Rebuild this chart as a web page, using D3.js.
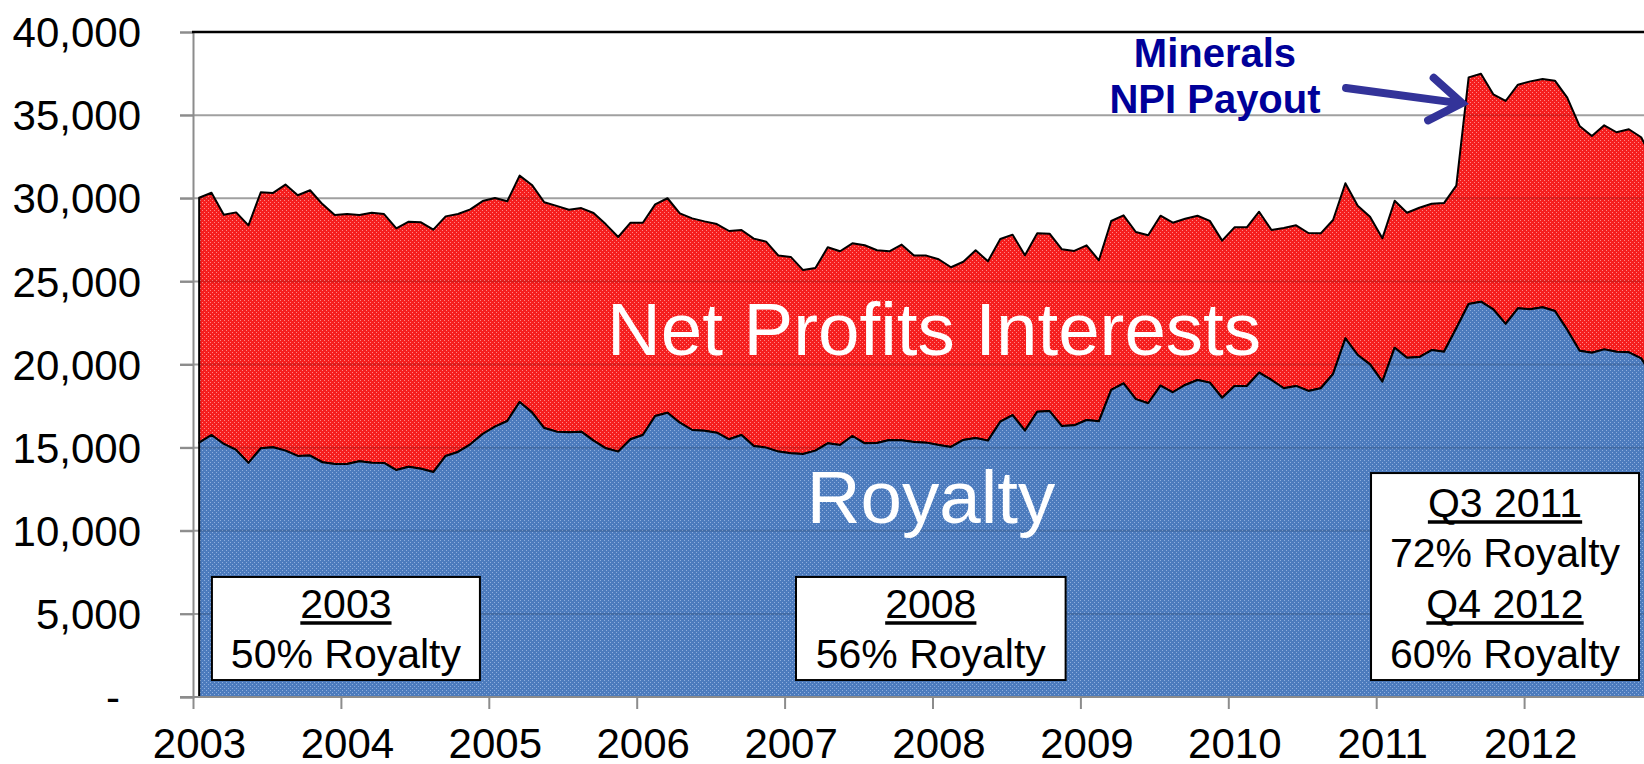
<!DOCTYPE html>
<html>
<head>
<meta charset="utf-8">
<script src="https://cdn.jsdelivr.net/npm/d3@7"></script>
<style>
  body { margin: 0; background: #fff; }
  svg { display: block; font-family: "Liberation Sans", Arial, sans-serif; }
</style>
</head>
<body>
<div id="chart"></div>
<script>
(function(d3) {
  'use strict';

  // monthly values, Jan 2003 onward
  var yearTicks = [2003, 2004, 2005, 2006, 2007, 2008, 2009, 2010, 2011, 2012];
  var yTicks = [0, 5000, 10000, 15000, 20000, 25000, 30000, 35000, 40000];

  var royalty = [
    15300, 15760, 15220, 14860, 14080, 14960, 15020, 14820, 14500, 14520, 14120, 14020,
    14020, 14180, 14090, 14080, 13650, 13850, 13730, 13530, 14500, 14740, 15200, 15820,
    16260, 16600, 17740, 17120, 16180, 15960, 15920, 15960, 15420, 14960, 14760, 15500,
    15760, 16900, 17100, 16500, 16060, 16020, 15900, 15500, 15760, 15100, 15000, 14760,
    14660, 14620, 14820, 15260, 15160, 15700, 15260, 15280, 15460, 15440, 15340, 15300,
    15160, 15040, 15460, 15580, 15420, 16560, 16960, 16020, 17160, 17200, 16300, 16340,
    16660, 16580, 18470, 18870, 17920, 17670, 18730, 18330, 18770, 19070, 18910, 18000,
    18710, 18710, 19510, 19070, 18570, 18710, 18410, 18570, 19430, 21570, 20570, 20010,
    18970, 21010, 20410, 20450, 20870, 20770, 22180, 23640, 23780, 23320, 22440, 23380,
    23320, 23440, 23220, 22080, 20830, 20710, 20910, 20770, 20730, 20370, 19200
  ];

  var total = [
    30030, 30330, 29010, 29150, 28370, 30360, 30320, 30820, 30180, 30480, 29650, 28990,
    29050, 28990, 29130, 29050, 28190, 28590, 28550, 28110, 28910, 29050, 29330, 29830,
    30020, 29820, 31360, 30800, 29760, 29540, 29310, 29410, 29110, 28430, 27670, 28530,
    28530, 29630, 30000, 29090, 28790, 28610, 28450, 28030, 28090, 27570, 27390, 26550,
    26470, 25680, 25800, 27050, 26810, 27290, 27170, 26870, 26810, 27210, 26550, 26550,
    26330, 25850, 26180, 26870, 26210, 27550, 27810, 26570, 27890, 27870, 26930, 26830,
    27170, 26270, 28630, 28970, 27970, 27770, 28950, 28530, 28770, 28950, 28640, 27450,
    28250, 28250, 29190, 28090, 28210, 28370, 27910, 27890, 28690, 30900, 29550, 28890,
    27590, 29850, 29130, 29430, 29670, 29710, 30760, 37270, 37490, 36250, 35850, 36830,
    37030, 37170, 37070, 36050, 34350, 33740, 34390, 33970, 34150, 33670, 32200
  ];

  var seriesLabels = ['Net Profits Interests', 'Royalty'];
  var calloutLines = ['Minerals', 'NPI Payout'];
  var boxTexts = [
    ['2003', '50% Royalty'],
    ['2008', '56% Royalty'],
    ['Q3 2011', '72% Royalty', 'Q4 2012', '60% Royalty']
  ];

  var width = 1644;
  var height = 764;

  var x = d3.scaleLinear().domain([2003, 2013]).range([193, 1672]);
  var y = d3.scaleLinear().domain([0, 40000]).range([697, 32]);

  function monthX(i) { return x(2003 + (i + 0.5) / 12); }

  var rows = royalty.map(function(r, i) {
    return { i: i, royalty: r, total: total[i] };
  });

  var svg = d3.select('#chart')
    .append('svg')
    .attr('width', width)
    .attr('height', height);

  var defs = svg.append('defs');

  function makePattern(id, base, dot) {
    var p = defs.append('pattern')
      .attr('id', id)
      .attr('width', 4)
      .attr('height', 4)
      .attr('patternUnits', 'userSpaceOnUse');
    p.append('rect').attr('width', 4).attr('height', 4).attr('fill', base);
    p.append('rect').attr('x', 0).attr('y', 0).attr('width', 1).attr('height', 1).attr('fill', dot);
    p.append('rect').attr('x', 2).attr('y', 2).attr('width', 1).attr('height', 1).attr('fill', dot);
  }
  makePattern('redPat', '#f51e1e', '#ff8585');
  makePattern('bluePat', '#4c7bbd', '#8eaede');

  var totalArea = d3.area()
    .x(function(d) { return monthX(d.i); })
    .y0(y(0))
    .y1(function(d) { return y(d.total); });

  var npiArea = d3.area()
    .x(function(d) { return monthX(d.i); })
    .y0(function(d) { return y(d.royalty); })
    .y1(function(d) { return y(d.total); });

  var royaltyArea = d3.area()
    .x(function(d) { return monthX(d.i); })
    .y0(y(0))
    .y1(function(d) { return y(d.royalty); });

  defs.append('clipPath').attr('id', 'fillClip')
    .append('path').attr('d', totalArea(rows));

  // gridlines (under the fills)
  var grid = svg.append('g').attr('class', 'grid');
  grid.selectAll('line')
    .data(yTicks.filter(function(d) { return d > 0 && d < 40000; }))
    .enter().append('line')
    .attr('x1', 180).attr('x2', width)
    .attr('y1', function(d) { return y(d); })
    .attr('y2', function(d) { return y(d); })
    .attr('stroke', '#a0a0a0')
    .attr('stroke-width', 2);

  // stacked areas
  svg.append('path')
    .attr('d', npiArea(rows))
    .attr('fill', 'url(#redPat)')
    .attr('stroke', '#000')
    .attr('stroke-width', 2)
    .attr('stroke-linejoin', 'round');

  svg.append('path')
    .attr('d', royaltyArea(rows))
    .attr('fill', 'url(#bluePat)')
    .attr('stroke', '#000')
    .attr('stroke-width', 2)
    .attr('stroke-linejoin', 'round');

  // gridlines showing faintly through the fills
  svg.append('g')
    .attr('clip-path', 'url(#fillClip)')
    .selectAll('line')
    .data(yTicks.filter(function(d) { return d > 0 && d < 40000; }))
    .enter().append('line')
    .attr('x1', 180).attr('x2', width)
    .attr('y1', function(d) { return y(d); })
    .attr('y2', function(d) { return y(d); })
    .attr('stroke', 'rgba(0,0,0,0.13)')
    .attr('stroke-width', 2);

  // axes
  var yAxis = d3.axisLeft(y)
    .tickValues(yTicks)
    .tickSize(13)
    .tickPadding(39)
    .tickFormat(function(d) { return d === 0 ? '-' : d3.format(',')(d); });

  var yAxisG = svg.append('g')
    .attr('transform', 'translate(193,0)')
    .call(yAxis);
  yAxisG.select('.domain').attr('stroke', '#8c8c8c').attr('stroke-width', 2);
  yAxisG.selectAll('.tick line').attr('stroke', '#8c8c8c').attr('stroke-width', 2);
  yAxisG.selectAll('.tick text')
    .attr('font-size', 42)
    .attr('font-family', '"Liberation Sans", Arial, sans-serif')
    .attr('fill', '#000')
    .attr('dy', '0.35em');
  yAxisG.selectAll('.tick text')
    .filter(function(d) { return d === 0; })
    .attr('dx', -21);

  var xAxis = d3.axisBottom(x)
    .tickValues(yearTicks)
    .tickSize(12)
    .tickPadding(22)
    .tickFormat(d3.format('d'));

  var xAxisG = svg.append('g')
    .attr('transform', 'translate(0,' + y(0) + ')')
    .call(xAxis);
  xAxisG.select('.domain').remove();
  xAxisG.append('line')
    .attr('x1', 180).attr('x2', width)
    .attr('y1', 0).attr('y2', 0)
    .attr('stroke', '#8c8c8c').attr('stroke-width', 2);
  xAxisG.selectAll('.tick line').attr('stroke', '#8c8c8c').attr('stroke-width', 2);
  xAxisG.selectAll('.tick text')
    .attr('font-size', 42)
    .attr('font-family', '"Liberation Sans", Arial, sans-serif')
    .attr('fill', '#000')
    .attr('dx', 6)
    .attr('dy', 0)
    .attr('y', 61);

  // top border of plot area
  svg.append('line')
    .attr('x1', 192).attr('x2', width)
    .attr('y1', y(40000)).attr('y2', y(40000))
    .attr('stroke', '#000').attr('stroke-width', 2.5);

  // series labels inside the areas
  svg.append('text')
    .attr('x', x(2008.01)).attr('y', y(20570))
    .attr('text-anchor', 'middle')
    .attr('font-size', 74.5)
    .attr('fill', '#fff')
    .text(seriesLabels[0]);

  svg.append('text')
    .attr('x', x(2007.99)).attr('y', y(10470))
    .attr('text-anchor', 'middle')
    .attr('font-size', 74.5)
    .attr('fill', '#fff')
    .text(seriesLabels[1]);

  // boxed notes
  var boxes = [
    { x0: 2003.128, x1: 2004.94, top: 7220, bottom: 1020, lines: boxTexts[0] },
    { x0: 2007.077, x1: 2008.90, top: 7220, bottom: 1020, lines: boxTexts[1] },
    { x0: 2010.965, x1: 2012.777, top: 13470, bottom: 1020, lines: boxTexts[2] }
  ];

  boxes.forEach(function(b) {
    var g = svg.append('g');
    var left = x(b.x0), right = x(b.x1);
    var top = y(b.top), bottom = y(b.bottom);
    g.append('rect')
      .attr('x', left).attr('y', top)
      .attr('width', right - left).attr('height', bottom - top)
      .attr('fill', '#fff')
      .attr('stroke', '#000')
      .attr('stroke-width', 2);
    var cx = (left + right) / 2;
    var n = b.lines.length;
    b.lines.forEach(function(t, k) {
      var baseline = bottom - 12 - (n - 1 - k) * 50.5;
      var txt = g.append('text')
        .attr('x', cx).attr('y', baseline)
        .attr('text-anchor', 'middle')
        .attr('font-size', 41)
        .attr('fill', '#000')
        .text(t);
      if (k % 2 === 0) {
        var w = txt.node().getComputedTextLength();
        g.append('line')
          .attr('x1', cx - w / 2).attr('x2', cx + w / 2)
          .attr('y1', baseline + 5.5).attr('y2', baseline + 5.5)
          .attr('stroke', '#000').attr('stroke-width', 3.5);
      }
    });
  });

  // callout
  var callout = svg.append('g');
  callout.selectAll('text')
    .data(calloutLines)
    .enter().append('text')
    .attr('x', x(2009.91))
    .attr('y', function(d, i) { return i === 0 ? y(37910) : y(35130); })
    .attr('text-anchor', 'middle')
    .attr('font-size', 40)
    .attr('font-weight', 'bold')
    .attr('fill', '#000099')
    .text(function(d) { return d; });

  var tail = [x(2010.796), y(36630)];
  var tip = [x(2011.58), y(35720)];
  var dx = tip[0] - tail[0], dy = tip[1] - tail[1];
  var len = Math.sqrt(dx * dx + dy * dy);
  var ux = -dx / len, uy = -dy / len;
  function arm(angle) {
    var c = Math.cos(angle), s = Math.sin(angle);
    return [tip[0] + 38 * (ux * c - uy * s), tip[1] + 38 * (ux * s + uy * c)];
  }
  var a1 = arm(0.6), a2 = arm(-0.6);
  callout.append('path')
    .attr('d', 'M' + tail + 'L' + [tip[0] - 3, tip[1]] +
      'M' + a1 + 'L' + tip + 'L' + a2)
    .attr('fill', 'none')
    .attr('stroke', '#333399')
    .attr('stroke-width', 8)
    .attr('stroke-linecap', 'round')
    .attr('stroke-linejoin', 'miter');

})(window.d3);
</script>
</body>
</html>
